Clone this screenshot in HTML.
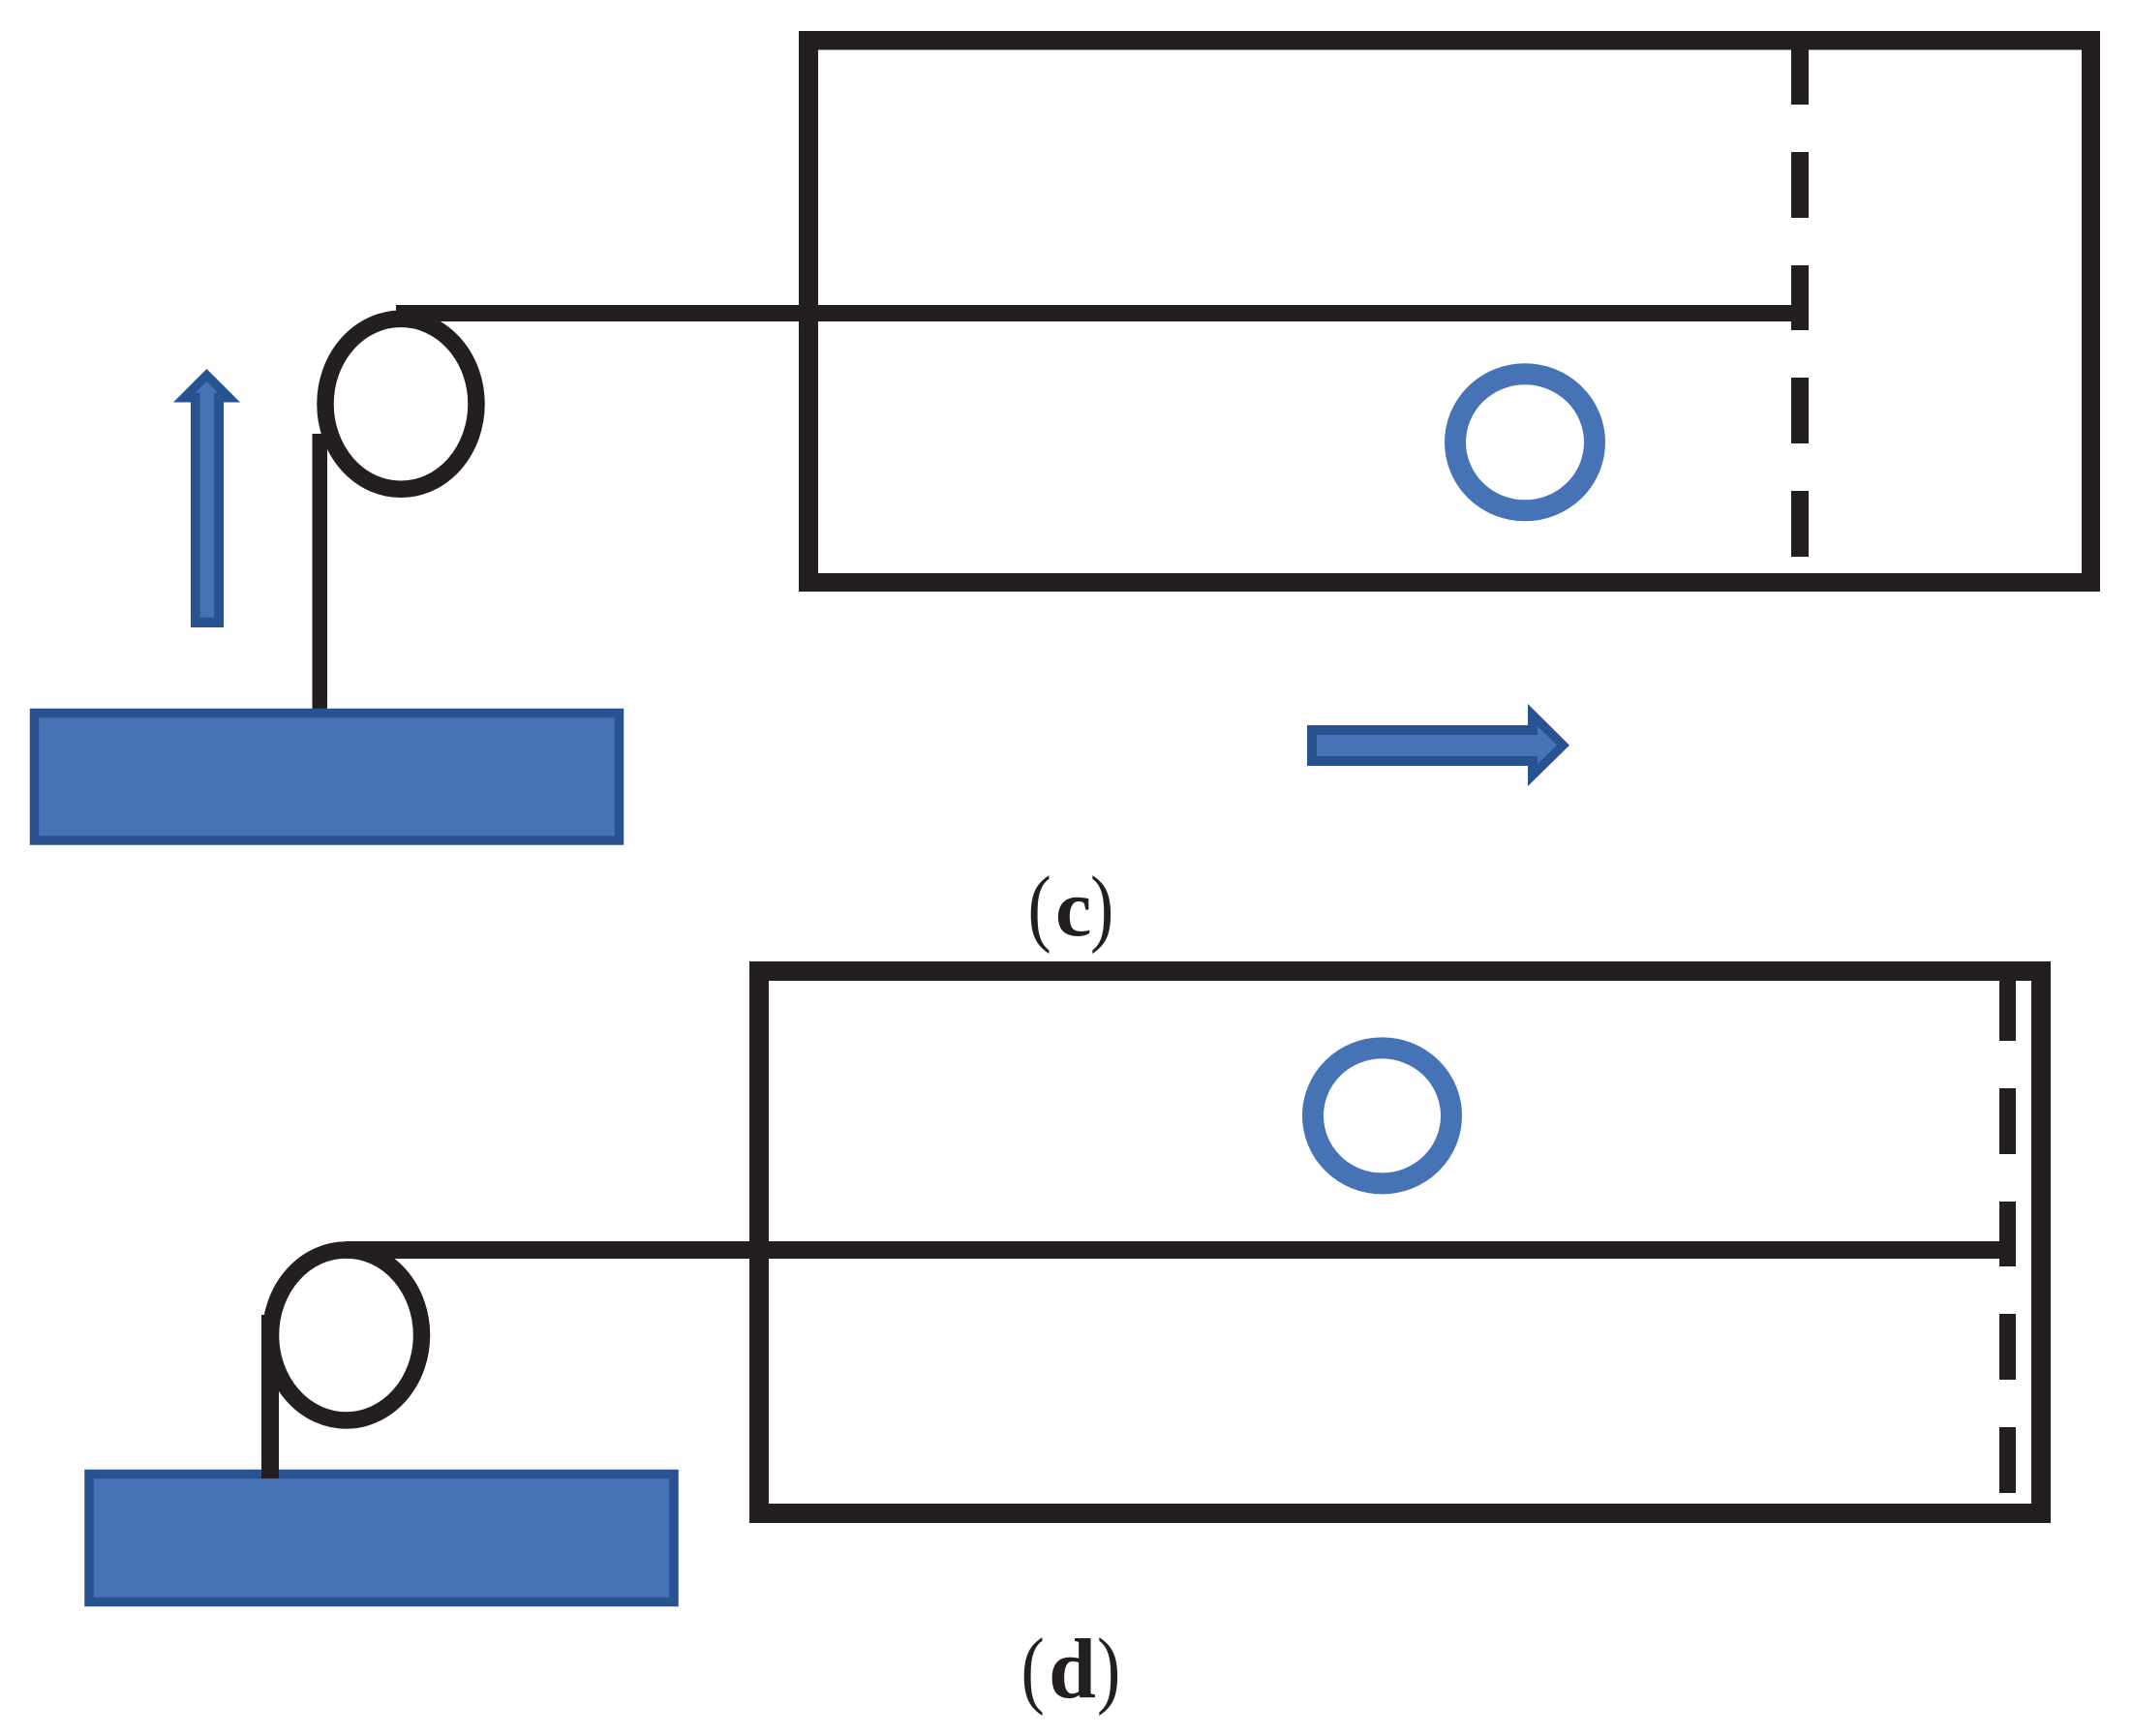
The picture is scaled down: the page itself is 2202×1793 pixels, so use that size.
<!DOCTYPE html>
<html>
<head>
<meta charset="utf-8">
<style>
html,body{margin:0;padding:0;background:#fff;width:2202px;height:1793px;overflow:hidden}
svg{display:block}
</style>
</head>
<body>
<svg width="2202" height="1793" viewBox="0 0 2202 1793" xmlns="http://www.w3.org/2000/svg">
<rect width="2202" height="1793" fill="#fff"/>

<!-- Panel c -->
<path fill="#231f20" fill-rule="evenodd" d="M825 32H2169V611H825ZM845 51.500H2150V592H845Z"/>
<g fill="#231f20">
<rect x="1850" y="45" width="18" height="63"/>
<rect x="1850" y="157" width="18" height="68"/>
<rect x="1850" y="274" width="18" height="67"/>
<rect x="1850" y="390" width="18" height="68"/>
<rect x="1850" y="507" width="18" height="68"/>
<rect x="409" y="315" width="1445" height="17"/>
</g>
<ellipse cx="414" cy="417.300" rx="78" ry="88" fill="none" stroke="#231f20" stroke-width="17.500"/>
<rect x="322.500" y="448" width="15.500" height="286" fill="#231f20"/>
<ellipse cx="1575" cy="456.800" rx="72" ry="70.500" fill="none" stroke="#4672b6" stroke-width="22"/>
<rect x="35.500" y="736.500" width="604" height="131.500" fill="#4672b6" stroke="#295291" stroke-width="9.500"/>
<!-- Up arrow -->
<polygon points="213.500,381 248,415.500 231,415.500 231,648 197,648 197,415.500 179,415.500" fill="#295291"/>
<polygon points="213.500,394 225,405.700 221,405.700 221,637.700 206.700,637.700 206.700,405.700 201.500,405.700" fill="#4672b6"/>
<!-- Right arrow -->
<polygon points="1621,769.700 1578,812 1578,791 1350,791 1350,749 1578,749 1578,727" fill="#295291"/>
<polygon points="1608,769.700 1588,789 1588,781 1360,781 1360,759 1588,759 1588,750" fill="#4672b6"/>
<text transform="translate(1061.500 966) scale(.82 1)" font-family="'Liberation Serif',serif" font-size="89" fill="#231f20">(</text>
<text x="1090" y="966" font-family="'Liberation Serif',serif" font-size="84" font-weight="700" fill="#231f20">c</text>
<text transform="translate(1126 966) scale(.82 1)" font-family="'Liberation Serif',serif" font-size="89" fill="#231f20">)</text>

<!-- Panel d -->
<path fill="#231f20" fill-rule="evenodd" d="M774 993H2118V1573H774ZM794 1013H2098V1553H794Z"/>
<g fill="#231f20">
<rect x="2065" y="1005" width="17" height="70"/>
<rect x="2065" y="1124" width="17" height="68"/>
<rect x="2065" y="1241" width="17" height="67"/>
<rect x="2065" y="1357" width="17" height="68"/>
<rect x="2065" y="1474" width="17" height="68"/>
<rect x="357" y="1282" width="1713" height="18"/>
</g>
<ellipse cx="357.500" cy="1379" rx="78" ry="88" fill="none" stroke="#231f20" stroke-width="17.500"/>
<ellipse cx="1427.500" cy="1152.400" rx="71.500" ry="70" fill="none" stroke="#4672b6" stroke-width="22"/>
<rect x="92" y="1522.500" width="604" height="132" fill="#4672b6" stroke="#295291" stroke-width="9.500"/>
<rect x="270" y="1358" width="18" height="169" fill="#231f20"/>
<text transform="translate(1054.500 1753) scale(.82 1)" font-family="'Liberation Serif',serif" font-size="89" fill="#231f20">(</text>
<text x="1083" y="1753" font-family="'Liberation Serif',serif" font-size="88" font-weight="700" fill="#231f20">d</text>
<text transform="translate(1133 1753) scale(.82 1)" font-family="'Liberation Serif',serif" font-size="89" fill="#231f20">)</text>
</svg>
</body>
</html>
